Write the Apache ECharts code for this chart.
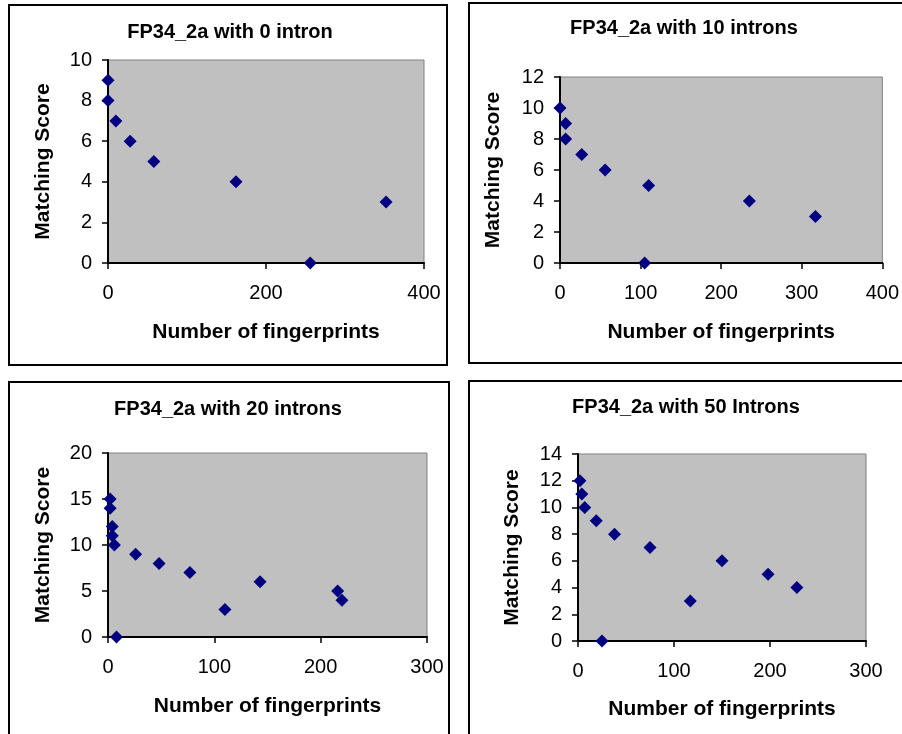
<!DOCTYPE html>
<html>
<head>
<meta charset="utf-8">
<script src="https://cdn.jsdelivr.net/npm/echarts@6/dist/echarts.min.js"></script>
<style>
html,body{margin:0;padding:0;background:#fff;}
#chart{width:902px;height:734px;}
</style>
</head>
<body>
<div id="chart"></div>
<script>
// ---- Data ----
const titles = ["FP34_2a with 0 intron", "FP34_2a with 10 introns", "FP34_2a with 20 introns", "FP34_2a with 50 Introns"];
const xName = "Number of fingerprints";
const yName = "Matching Score";

const p1x = [0, 0, 10, 28, 58, 162, 256, 352];
const p1y = [9, 8, 7, 6, 5, 4, 0, 3];

const p2x = [0, 7, 7, 27, 56, 110, 105, 235, 317];
const p2y = [10, 9, 8, 7, 6, 5, 0, 4, 3];

const p3x = [2, 2, 4, 4, 6, 8, 26, 48, 77, 110, 143, 216, 220];
const p3y = [15, 14, 12, 11, 10, 0, 9, 8, 7, 3, 6, 5, 4];

const p4x = [2, 4, 7, 19, 38, 75, 117, 150, 198, 228, 25];
const p4y = [12, 11, 10, 9, 8, 7, 3, 6, 5, 4, 0];

const xRanges = [[0, 400, 200], [0, 400, 100], [0, 300, 100], [0, 300, 100]];
const yRanges = [[0, 10, 2], [0, 12, 2], [0, 20, 5], [0, 14, 2]];

// ---- Layout ----
const FONT = "'Liberation Sans', Arial, sans-serif";
const grids = [
  {left: 108, top: 60, width: 316, height: 203},
  {left: 560, top: 77, width: 326, height: 186},
  {left: 108, top: 453, width: 319, height: 184},
  {left: 578, top: 454, width: 288, height: 187}
];
const titlePos = [[230, 22], [684, 18], [228, 399], [686, 397]];
const yNameGap = [54, 56, 54, 55];
const xNameGap = [59, 59, 59, 58];
const frames = [
  {x: 9, y: 5, width: 438, height: 360},
  {x: 469, y: 3, width: 450, height: 360},
  {x: 9, y: 382, width: 440, height: 370},
  {x: 469, y: 381, width: 450, height: 370}
];

const xs = [p1x, p2x, p3x, p4x];
const ys = [p1y, p2y, p3y, p4y];

const chart = echarts.init(document.getElementById('chart'), null, {renderer: 'canvas'});

const option = {
  backgroundColor: '#ffffff',
  animation: false,
  title: titles.map((t, i) => ({
    text: t,
    left: titlePos[i][0],
    top: titlePos[i][1],
    textAlign: 'center',
    padding: 0,
    textStyle: {fontFamily: FONT, fontSize: 20, fontWeight: 'bold', color: '#000'}
  })),
  grid: grids.map(g => Object.assign({
    show: true,
    backgroundColor: '#C0C0C0',
    borderColor: '#808080',
    borderWidth: 1,
    containLabel: false
  }, g)),
  xAxis: xRanges.map((r, i) => ({
    type: 'value',
    gridIndex: i,
    min: r[0], max: r[1], interval: r[2],
    name: xName,
    nameLocation: 'middle',
    nameGap: xNameGap[i],
    nameTextStyle: {fontFamily: FONT, fontSize: 21, fontWeight: 'bold', color: '#000'},
    axisLine: {show: true, onZero: false, lineStyle: {color: '#000', width: 2}},
    axisTick: {show: true, inside: false, length: 6, lineStyle: {color: '#000', width: 1.5}},
    axisLabel: {fontFamily: FONT, fontSize: 20, color: '#000', margin: 20},
    splitLine: {show: false}
  })),
  yAxis: yRanges.map((r, i) => ({
    type: 'value',
    gridIndex: i,
    min: r[0], max: r[1], interval: r[2],
    name: yName,
    nameLocation: 'middle',
    nameGap: yNameGap[i],
    nameRotate: 90,
    nameTextStyle: {fontFamily: FONT, fontSize: 21, fontWeight: 'bold', color: '#000'},
    axisLine: {show: true, onZero: false, lineStyle: {color: '#000', width: 2}},
    axisTick: {show: true, inside: false, length: 6, lineStyle: {color: '#000', width: 1.5}},
    axisLabel: {fontFamily: FONT, fontSize: 20, color: '#000', margin: 16},
    splitLine: {show: false}
  })),
  series: xs.map((xv, i) => ({
    type: 'scatter',
    xAxisIndex: i,
    yAxisIndex: i,
    symbol: 'diamond',
    symbolSize: 13,
    clip: false,
    itemStyle: {color: '#000080', opacity: 1},
    data: xv.map((x, j) => [x, ys[i][j]])
  })),
  graphic: frames.map(f => ({
    type: 'rect',
    shape: f,
    silent: true,
    z: 100,
    style: {fill: 'none', stroke: '#000', lineWidth: 2}
  }))
};

chart.setOption(option);
</script>
</body>
</html>
